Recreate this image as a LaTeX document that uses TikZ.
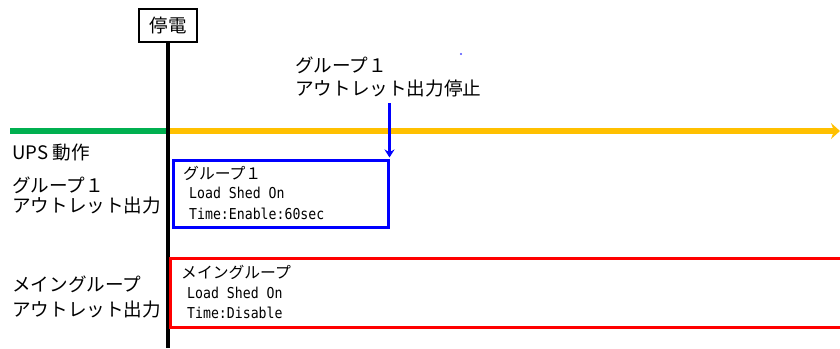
\documentclass[tikz,border=0pt]{standalone}
\usepackage{fontspec}
\setmainfont{Noto Sans CJK JP}
\newfontfamily\monofnt[FakeStretch=0.88]{DejaVu Sans Mono}
\usetikzlibrary{arrows.meta}
\definecolor{upsgreen}{HTML}{00B050}
\definecolor{upsyellow}{HTML}{FFC000}
\definecolor{grpblue}{HTML}{0000FF}
\definecolor{grpred}{HTML}{FF0000}
\tikzset{
  lbl/.style={anchor=west, inner sep=0pt, font=\fontsize{18.6}{21}\selectfont},
  boxj/.style={anchor=west, inner sep=0pt, font=\fontsize{15.8}{18}\selectfont},
  boxl/.style={anchor=west, inner sep=0pt, font=\monofnt\fontsize{15}{18}\selectfont},
}
\begin{document}
\begin{tikzpicture}[x=1pt,y=-1pt]
\useasboundingbox (0,0) rectangle (840,348);
% event box
\node[draw=black, line width=2.6pt, minimum width=58pt, minimum height=33pt, inner sep=0pt,
      font=\fontsize{18.5}{20}\selectfont] (teiden) at (168,25.5) {停電};
\coordinate (vbot) at (168,348);
\coordinate (gstart) at (10,131);
\coordinate (cross) at (168,131);
\coordinate (yend) at (840,131);
% timeline
\draw[upsgreen, line width=5.5pt] (gstart) -- (cross);
\draw[upsyellow, line width=5.5pt, -{Stealth[length=9pt,width=16pt,inset=3pt]}] (cross) -- (yend);
\draw[black, line width=3.2pt] (teiden.south) -- (vbot);
% top label
\node[lbl] (t1) at (295,65) {グループ１};
\node[lbl] (t2) at (295,88) {アウトレット出力停止};
\fill[grpblue!70] (461,54) circle (1.1pt);
% left labels
\node[lbl] (ups) at (12,153) {UPS 動作};
\node[lbl] (g1a) at (12,185) {グループ１};
\node[lbl] (g1b) at (12,205) {アウトレット出力};
\node[lbl] (m1a) at (12,284) {メイングループ};
\node[lbl] (m1b) at (12,309) {アウトレット出力};
% group 1 box
\node[draw=grpblue, line width=3pt, minimum width=215pt, minimum height=67pt, inner sep=0pt] (g1box) at (280.5,193.5) {};
\coordinate (arrtop) at (g1box.north east |- 0,103);
\draw[grpblue, line width=2.8pt, -{Stealth[length=8pt,width=10pt]}] (arrtop) -- ([yshift=1pt]g1box.north east);
\node[boxj] (b1) at (183,173) {グループ１};
\node[boxl] (b2) at (189,193) {Load Shed On};
\node[boxl] (b3) at (189,214) {Time:Enable:60sec};
% main group box (open to the right)
\coordinate (rtr) at (842,258);
\coordinate (rtl) at (170,258);
\coordinate (rbl) at (170,327);
\coordinate (rbr) at (842,327);
\draw[grpred, line width=3pt] (rtr) -- (rtl) -- (rbl) -- (rbr);
\node[boxj] (r1) at (181,272) {メイングループ};
\node[boxl] (r2) at (187,293) {Load Shed On};
\node[boxl] (r3) at (187,313) {Time:Disable};
\end{tikzpicture}
\end{document}
